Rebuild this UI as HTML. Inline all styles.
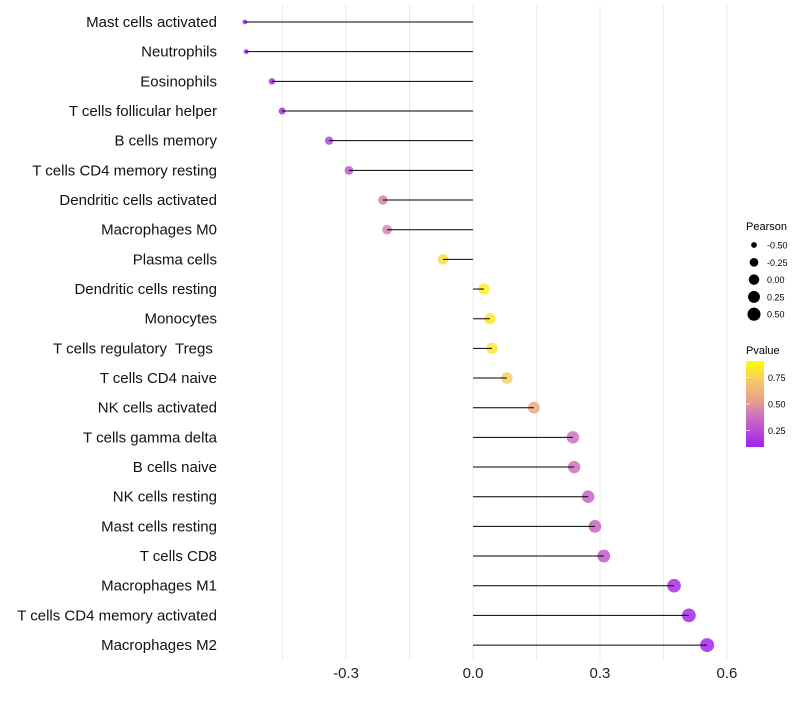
<!DOCTYPE html>
<html><head><meta charset="utf-8"><style>
body{margin:0;background:#fff}
svg{font-family:"Liberation Sans",sans-serif}
text{white-space:pre}
</style></head><body>
<svg id="chart" width="800" height="700">
<defs><linearGradient id="pg" x1="0" y1="1" x2="0" y2="0">
<stop offset="0" stop-color="#a020f0"/><stop offset="0.35" stop-color="#cc6fc0"/><stop offset="0.55" stop-color="#e8a28a"/><stop offset="0.8" stop-color="#f5d060"/><stop offset="1" stop-color="#ffff00"/>
</linearGradient></defs>
</svg>
<script>
const categories=["Mast cells activated","Neutrophils","Eosinophils","T cells follicular helper","B cells memory","T cells CD4 memory resting","Dendritic cells activated","Macrophages M0","Plasma cells","Dendritic cells resting","Monocytes","T cells regulatory  Tregs ","T cells CD4 naive","NK cells activated","T cells gamma delta","B cells naive","NK cells resting","Mast cells resting","T cells CD8","Macrophages M1","T cells CD4 memory activated","Macrophages M2"];
const pearson=[-0.539,-0.536,-0.475,-0.451,-0.340,-0.293,-0.213,-0.203,-0.071,0.026,0.040,0.045,0.080,0.144,0.236,0.239,0.272,0.288,0.309,0.475,0.510,0.553];
const pvalue=[0.03,0.03,0.06,0.07,0.17,0.24,0.42,0.42,0.85,0.93,0.9,0.9,0.8,0.6,0.36,0.36,0.3,0.3,0.26,0.06,0.04,0.02];
const xTicks=[-0.3,0.0,0.3,0.6];
const xGrid=[-0.45,-0.3,-0.15,0,0.15,0.3,0.45,0.6];
const sizeLegend=[-0.5,-0.25,0,0.25,0.5];
const pTicks=[0.25,0.5,0.75];
const NS="http://www.w3.org/2000/svg",svg=document.getElementById("chart");
const x=v=>473+v*423.3, y=i=>22+i*29.67, r=v=>2+5*Math.sqrt(Math.max(0,(v+0.545)/1.1));
const pY=p=>457-p*106;
function mk(t,a,txt){const e=document.createElementNS(NS,t);for(const k in a)e.setAttribute(k,a[k]);if(txt!==undefined)e.textContent=txt;svg.appendChild(e);return e;}
const stops=[[0,[160,32,240]],[0.35,[204,111,192]],[0.55,[232,162,138]],[0.8,[245,208,96]],[1,[255,255,0]]];
function col(p){for(let i=1;i<stops.length;i++){if(p<=stops[i][0]){const[a,ca]=stops[i-1],[b,cb]=stops[i],t=(p-a)/(b-a);return "rgb("+ca.map((c,j)=>Math.round(c+(cb[j]-c)*t)).join(",")+")";}}return "yellow";}
xGrid.forEach(g=>{const l=mk("line",{x1:x(g),x2:x(g),y1:5,y2:660,stroke:"#ebebeb","stroke-width":1});

});
xTicks.forEach(t=>{const e=mk("text",{x:x(t),y:678,"text-anchor":"middle","font-size":15,fill:"#222"},t.toFixed(1));

});
categories.forEach((c,i)=>{
const lb=mk("text",{x:217,y:y(i)+5,"text-anchor":"end","font-size":15,fill:"#111","xml:space":"preserve"},c);


const d=mk("circle",{cx:x(pearson[i]),cy:y(i),r:r(pearson[i]),fill:col(pvalue[i]),"fill-opacity":0.85});


const s=mk("line",{x1:x(0),x2:x(pearson[i]),y1:y(i),y2:y(i),stroke:"#000","stroke-width":1});


});
const t1=mk("text",{x:746,y:230,"font-size":11},"Pearson");


sizeLegend.forEach((v,i)=>{const yy=245+i*17.3;
const c=mk("circle",{cx:754,cy:yy,r:r(v)*0.95,fill:"#000"});


const t=mk("text",{x:767,y:yy+3.5,"font-size":9},v.toFixed(2));

});
const t2=mk("text",{x:746,y:354,"font-size":11},"Pvalue");


const cb=mk("rect",{x:746,y:361,width:18,height:86,fill:"url(#pg)"});


pTicks.forEach(p=>{const t=mk("text",{x:768,y:pY(p)+3.5,"font-size":9},p.toFixed(2));


const l=mk("line",{x1:746,x2:750,y1:pY(p),y2:pY(p),stroke:"#fff","stroke-opacity":0.6});

});
</script>
</body></html>
